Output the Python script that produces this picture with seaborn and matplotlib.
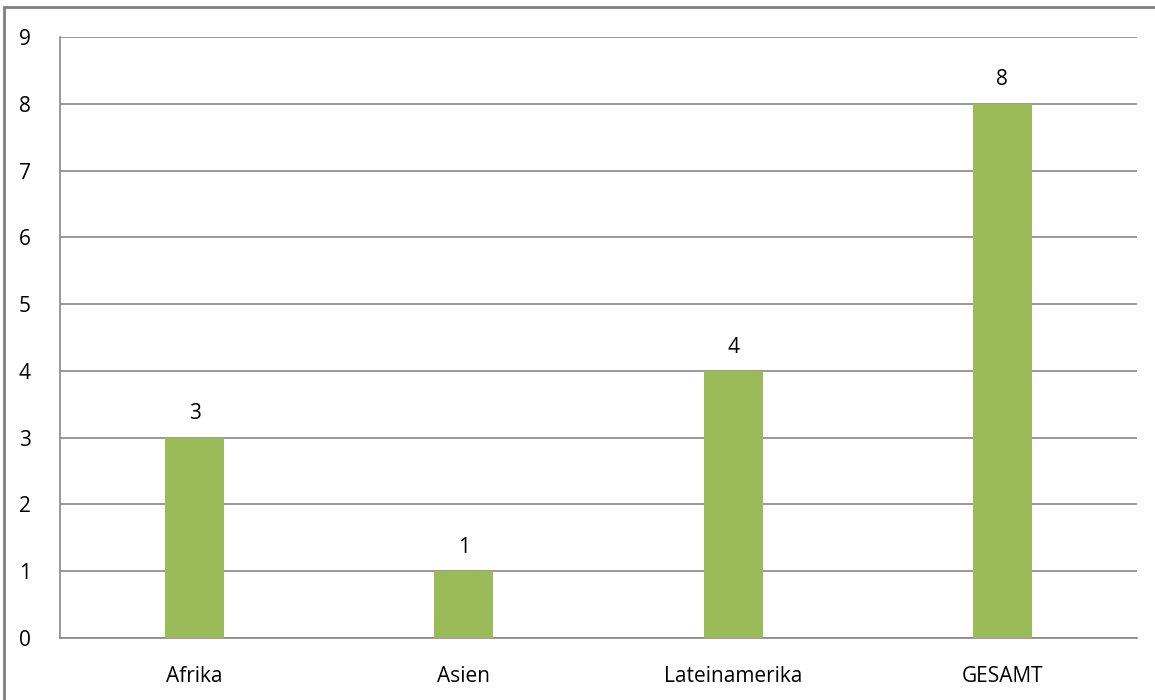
import matplotlib
matplotlib.use("Agg")
import matplotlib.pyplot as plt
import seaborn as sns
import pandas as pd
from matplotlib.patches import Rectangle

# --- data ---
regions = ["Afrika", "Asien", "Lateinamerika", "GESAMT"]
counts = [3, 1, 4, 8]
y_ticks = list(range(0, 10))

BAR_COLOR = "#9BBB59"
GRID_COLOR = "#878787"
FS = 15

sns.set_style("white")
plt.rcParams["font.family"] = ["Open Sans", "DejaVu Sans"]
plt.rcParams["text.color"] = "black"
plt.rcParams["xtick.color"] = "black"
plt.rcParams["ytick.color"] = "black"

df = pd.DataFrame({"region": regions, "count": counts})

fig = plt.figure(figsize=(11.55, 7.0), dpi=100)
ax = fig.add_axes([60 / 1155, 1 - 638 / 700, (1137 - 60) / 1155, (638 - 37) / 700])

sns.barplot(data=df, x="region", y="count", color=BAR_COLOR, width=0.22,
            saturation=1, linewidth=0, ax=ax, zorder=3)

ax.set_ylim(0, 9)
ax.set_xlim(-0.5, len(regions) - 0.5)
ax.set_yticks(y_ticks)
ax.set_yticklabels([str(t) for t in y_ticks], fontsize=FS)
ax.yaxis.grid(True, color=GRID_COLOR, linewidth=1.2, zorder=0)
ax.set_axisbelow(True)
ax.set_xlabel("")
ax.set_ylabel("")

# category labels without tick marks, tick marks at category boundaries
ax.set_xticks(range(len(regions)), regions)
ax.tick_params(axis="x", which="major", length=0, labelsize=FS, pad=20, labelcolor="black")
ax.set_xticks([i - 0.5 for i in range(len(regions) + 1)], minor=True)
ax.tick_params(axis="x", which="minor", length=7, width=1.2, color=GRID_COLOR, direction="out")
ax.tick_params(axis="y", length=7, width=1.2, color=GRID_COLOR, direction="out", pad=14,
               labelcolor="black")

for s in ["top", "right"]:
    ax.spines[s].set_visible(False)
for s in ["left", "bottom"]:
    ax.spines[s].set_color(GRID_COLOR)
    ax.spines[s].set_linewidth(1.2)

# value labels above bars
for i, v in enumerate(counts):
    ax.text(i, v + 0.2, str(v), ha="center", va="bottom", fontsize=FS, color="black")

# outer chart border (Excel style)
fig.patches.append(Rectangle((4 / 1155, -0.05), 1.1, 1 - 7 / 700 + 0.05,
                             transform=fig.transFigure, fill=False,
                             edgecolor="#7f7f7f", linewidth=2))

fig.savefig("out.png", dpi=100)
